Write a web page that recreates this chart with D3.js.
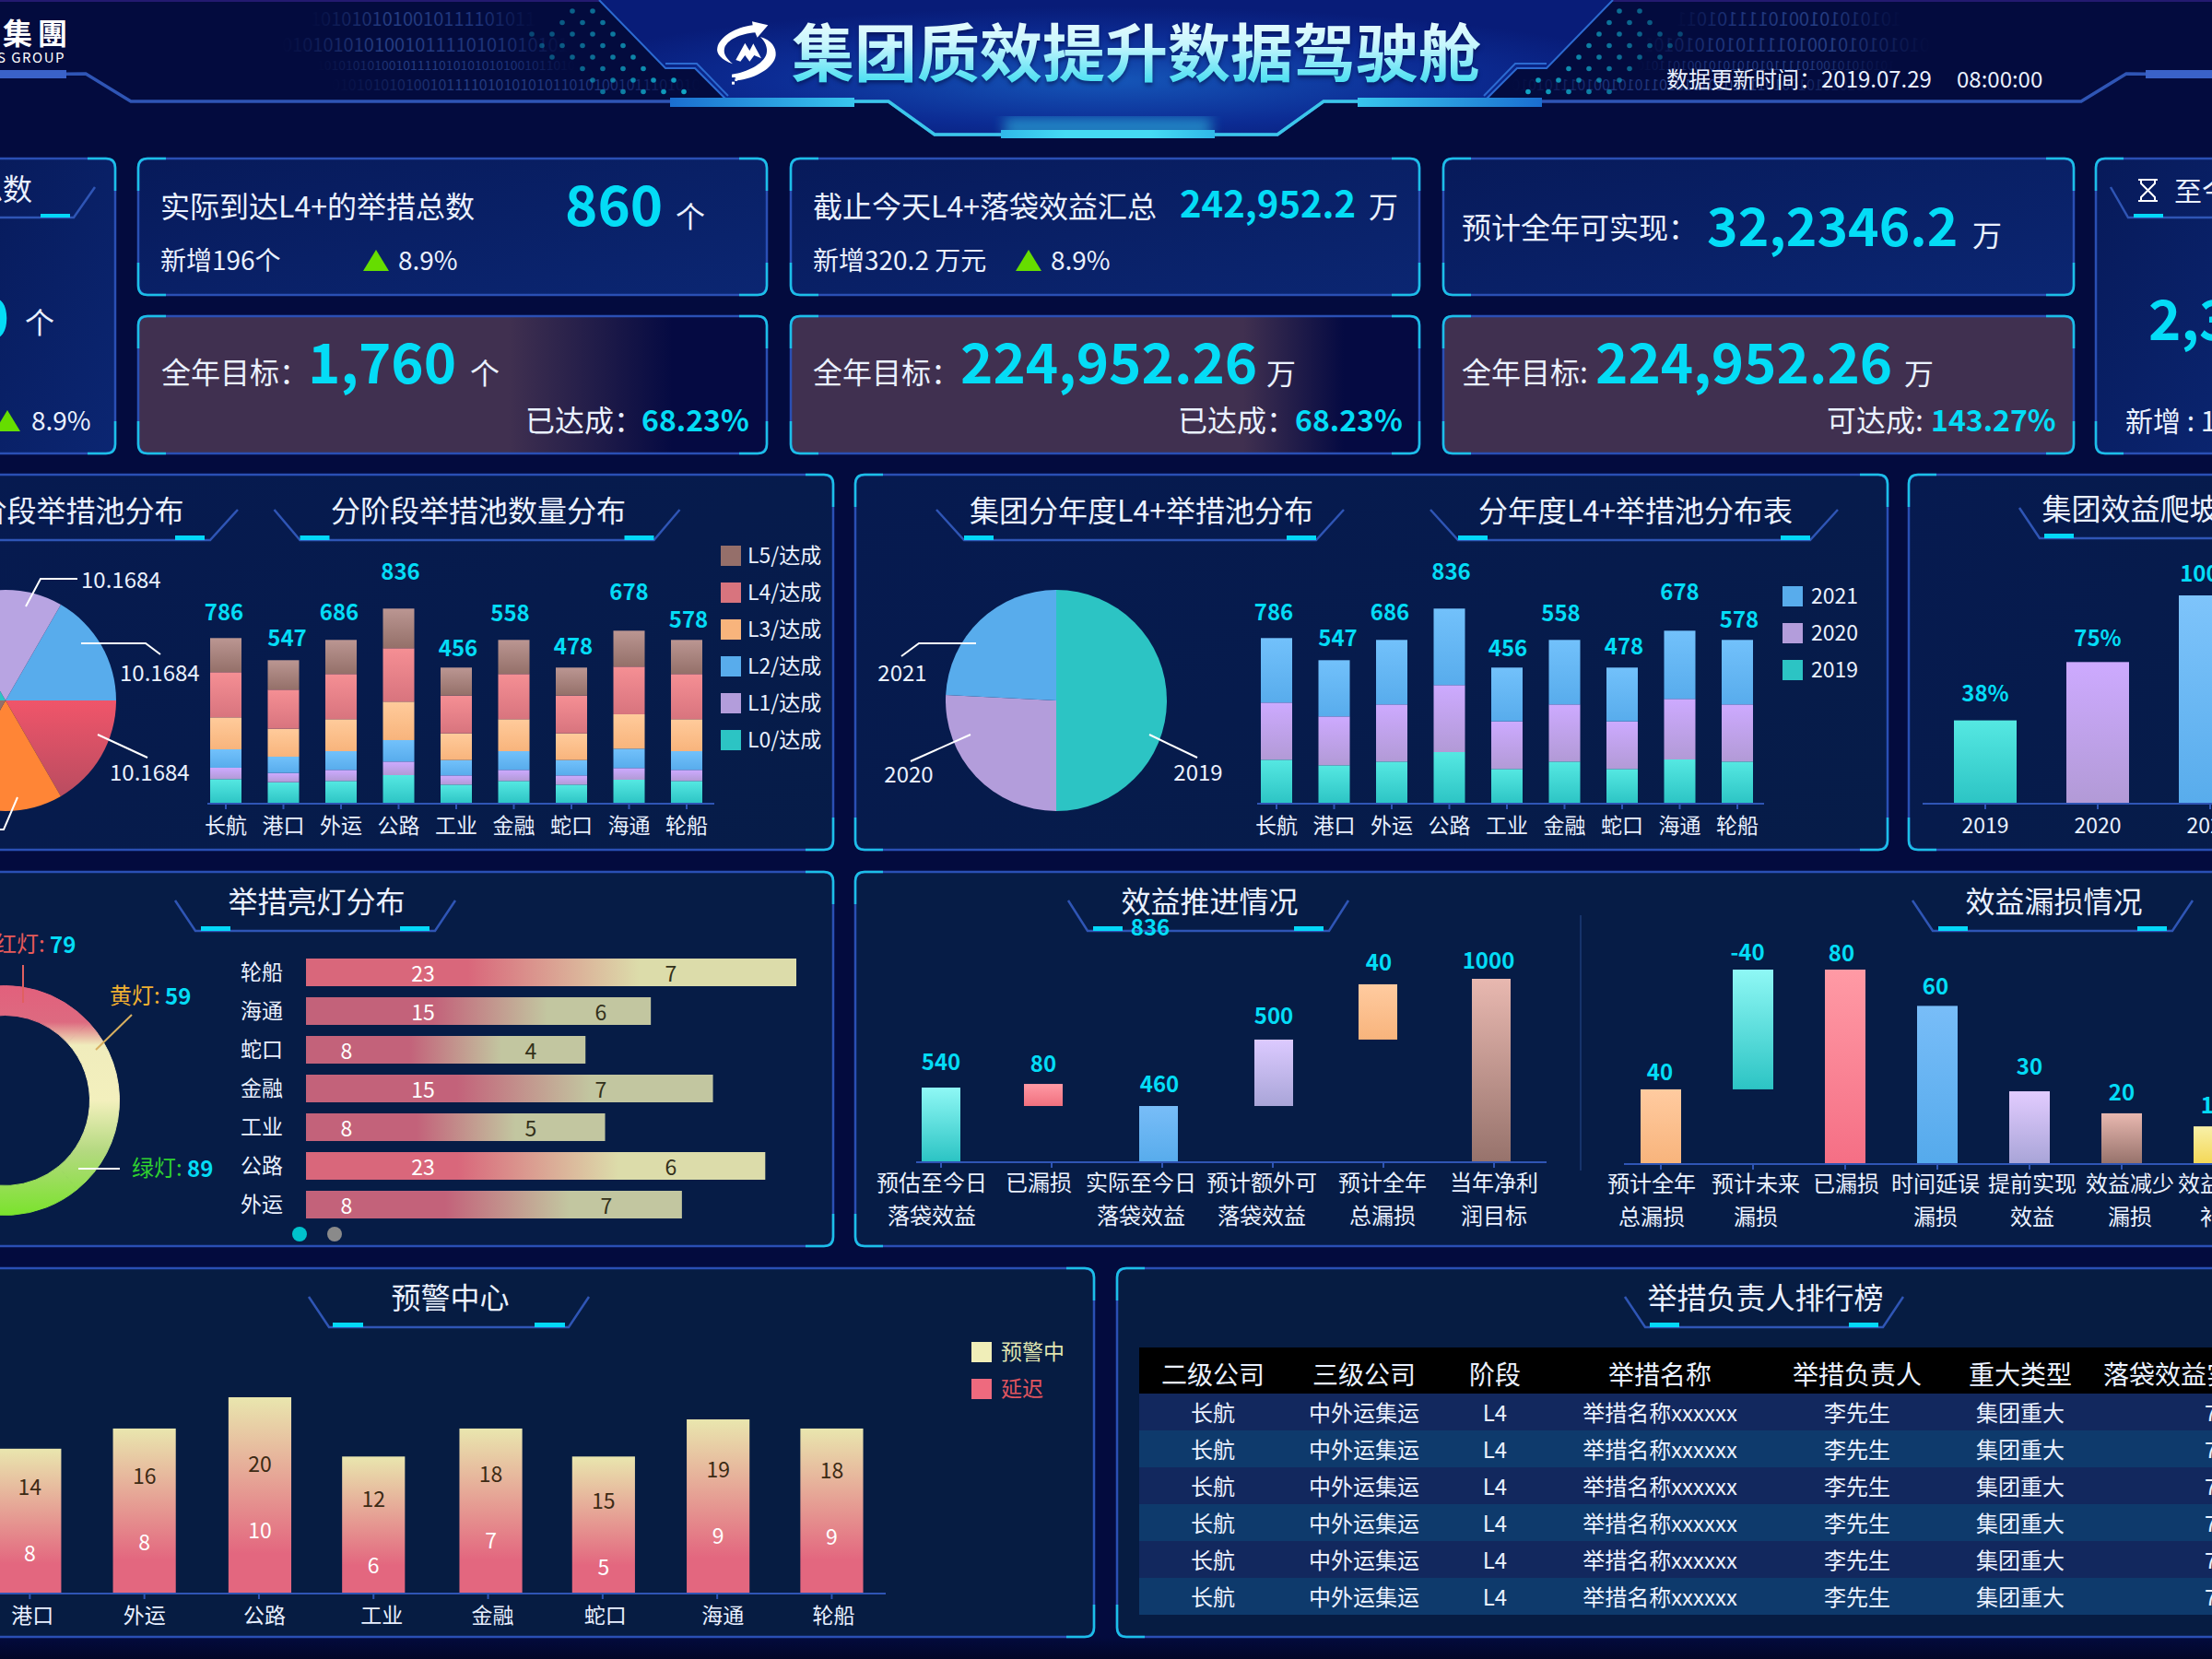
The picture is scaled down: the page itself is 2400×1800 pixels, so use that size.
<!DOCTYPE html>
<html>
<head>
<meta charset="utf-8">
<script src="https://cdn.jsdelivr.net/npm/d3@7/dist/d3.min.js"></script>
<style>
  html, body { margin: 0; padding: 0; background: #030b3e; overflow: hidden; }
  svg { display: block; }
  text { font-family: "Noto Sans CJK SC", "Noto Sans", sans-serif; dominant-baseline: central; }
  .axis text { fill: #e8f0ff; font-size: 23px; }
  .axis line { stroke: #2f55b5; stroke-width: 2; }
</style>
</head>
<body>
<div id="chart"></div>
<script>
// ---- data ----
const ports = ['长航', '港口', '外运', '公路', '工业', '金融', '蛇口', '海通', '轮船']
const stageKeys = ['L0', 'L1', 'L2', 'L3', 'L4', 'L5']
const stageL0 = [80, 70, 74, 93, 62, 74, 62, 78, 74]
const stageL1 = [37, 30, 36, 44, 30, 36, 30, 38, 36]
const stageL2 = [60, 53, 61, 70, 50, 61, 50, 63, 61]
const stageL3 = [104, 91, 104, 125, 87, 104, 87, 112, 104]
const stageL4 = [147, 127, 147, 174, 123, 147, 123, 155, 147]
const stageL5 = [111, 96, 111, 129, 91, 111, 91, 117, 111]
const portTotals = ['786', '547', '686', '836', '456', '558', '478', '678', '578']
const stageLegend = ['L5/达成', 'L4/达成', 'L3/达成', 'L2/达成', 'L1/达成', 'L0/达成']

const stagePie = [10.1684, 10.1684, 10.1684, 10.1684, 10.1684, 10.1684]
const stagePieKeys = ['L2', 'L4', 'L3', 'L5', 'L0', 'L1']

const yearKeys = ['2019', '2020', '2021']
const year2019 = [143, 125, 137, 168, 113, 137, 113, 144, 137]
const year2020 = [186, 159, 186, 218, 155, 186, 155, 197, 186]
const year2021 = [210, 183, 210, 249, 175, 210, 175, 222, 210]
const yearPie = [50, 25.8, 24.2]

const climbYears = ['2019', '2020', '2021']
const climbBars = [40, 68, 100]
const climbLabels = ['38%', '75%', '100%']

const lightNames = ['红灯', '黄灯', '绿灯']
const lightValues = [79, 59, 89]
const lightPorts = ['轮船', '海通', '蛇口', '金融', '工业', '公路', '外运']
const lightBars = [30, 21.1, 17.1, 24.9, 18.3, 28.1, 23]
const lightRed = [23, 15, 8, 15, 8, 23, 8]
const lightYellow = [7, 6, 4, 7, 5, 6, 7]

const advanceTop = ['预估至今日', '已漏损', '实际至今日', '预计额外可', '预计全年', '当年净利']
const advanceBottom = ['落袋效益', '', '落袋效益', '落袋效益', '总漏损', '润目标']
const advanceFrom = [0, 303, 0, 303, 667, 0]
const advanceTo = [404, 424, 303, 667, 970, 1000]
const advanceLabels = ['540', '80', '460', '500', '40', '1000']

const leakTop = ['预计全年', '预计未来', '已漏损', '时间延误', '提前实现', '效益减少', '效益增加']
const leakBottom = ['总漏损', '漏损', '', '漏损', '效益', '漏损', '补偿']
const leakFrom = [0, 30.5, 0, 0, 0, 0, 0]
const leakTo = [30.5, 80, 80, 65, 29.7, 20.6, 15.2]
const leakLabels = ['40', '-40', '80', '60', '30', '20', '10']

const alertPorts = ['港口', '外运', '公路', '工业', '金融', '蛇口', '海通', '轮船']
const alertBars = [22.1, 25.2, 30, 20.9, 25.2, 20.9, 26.6, 25.2]
const alertWarn = [14, 16, 20, 12, 18, 15, 19, 18]
const alertDelay = [8, 8, 10, 6, 7, 5, 9, 9]
const alertLegend = ['预警中', '延迟']

const tableHead = ['二级公司', '三级公司', '阶段', '举措名称', '举措负责人', '重大类型', '落袋效益实现']
const tableRow = ['长航', '中外运集运', 'L4', '举措名称xxxxxx', '李先生', '集团重大', '700']
const tableRowCount = [0, 1, 2, 3, 4, 5]

// ---- layout and colours, kept apart from the data ----
const width = 2400
const height = 1800
const white = '#eaf1ff'
const cyan = '#04dcf6'
const lineBlue = '#2f55b5'
const stageColor = { L0: ['#55e8e2', '#2cc4c4'], L1: ['#cdaaff', '#b29ad6'], L2: ['#72c1fb', '#58acec'], L3: ['#ffcb9b', '#f8b47c'], L4: ['#f58f94', '#d8747e'], L5: ['#bb9692', '#947069'] }
const legendColor = { L0: '#2cc4c4', L1: '#b39ddb', L2: '#58acec', L3: '#f8b47c', L4: '#d8747e', L5: '#956f6a', 2019: '#2cc4c4', 2020: '#b39ddb', 2021: '#58acec' }
const yearColor = { 2019: stageColor.L0, 2020: stageColor.L1, 2021: stageColor.L2 }
const labelDy = [27, 23, 29, 39, 20, 28, 22, 41, 21]

const svg = d3.select('#chart').append('svg').attr('width', width).attr('height', height)
const defs = svg.append('defs')

function gradient(id, stops, x2 = 0, y2 = 1) {
  const g = defs.append('linearGradient').attr('id', id)
    .attr('x1', 0).attr('y1', 0).attr('x2', x2).attr('y2', y2)
  stops.forEach(s => g.append('stop').attr('offset', s[0]).attr('stop-color', s[1]))
  return `url(#${id})`
}

function vGrad(id, pair) {
  return gradient(id, [[0, pair[0]], [1, pair[1]]])
}

// y is the visual middle of the text, the font sits about 2.5px low otherwise
function txt(parent, x, y, str, size, fill = white, anchor = 'start', weight = 400) {
  return parent.append('text').attr('x', x).attr('y', y - 2.5).attr('font-size', size)
    .attr('fill', fill).attr('text-anchor', anchor).attr('font-weight', weight).text(str)
}

const polyline = d3.line()

function leader(points, color = '#fff', w = 2) {
  svg.append('path').attr('d', polyline(points)).attr('fill', 'none').attr('stroke', color).attr('stroke-width', w)
}

function frame(x, y, w, h, fill) {
  const g = svg.append('g')
  g.append('rect').attr('x', x).attr('y', y).attr('width', w).attr('height', h).attr('rx', 10)
    .attr('fill', fill).attr('stroke', '#2a4fb4').attr('stroke-width', 2.5)
  const r = 10
  const corners = [
    `M${x + 30},${y}H${x + r}Q${x},${y} ${x},${y + r}V${y + 35}`,
    `M${x + w - 30},${y}H${x + w - r}Q${x + w},${y} ${x + w},${y + r}V${y + 35}`,
    `M${x + 30},${y + h}H${x + r}Q${x},${y + h} ${x},${y + h - r}V${y + h - 35}`,
    `M${x + w - 30},${y + h}H${x + w - r}Q${x + w},${y + h} ${x + w},${y + h - r}V${y + h - 35}`
  ]
  g.selectAll('path.c').data(corners).enter().append('path').attr('d', d => d)
    .attr('fill', 'none').attr('stroke', '#1cbfe8').attr('stroke-width', 2.5)
}

function title(str, cx, halfBottom, halfTop, yTop, yBottom, blockW, blockIn = 6) {
  leader([[cx - halfTop, yTop], [cx - halfBottom, yBottom], [cx + halfBottom, yBottom], [cx + halfTop, yTop]], lineBlue, 2.5)
  svg.append('rect').attr('x', cx - halfBottom + blockIn).attr('y', yBottom - 5).attr('width', blockW).attr('height', 5).attr('fill', '#04d8f8')
  svg.append('rect').attr('x', cx + halfBottom - blockIn - blockW).attr('y', yBottom - 5).attr('width', blockW).attr('height', 5).attr('fill', '#04d8f8')
  txt(svg, cx + 1.5, yTop + 1, str, 32, white, 'middle')
}

function bottomAxis(scale, y, x1, x2, showText = true, textNudge = null) {
  const axis = d3.axisBottom(scale).tickSize(6).tickSizeOuter(0).tickPadding(10)
  const g = svg.append('g').attr('class', 'axis').attr('transform', `translate(0,${y})`).call(axis)
  g.select('.domain').remove()
  g.selectAll('text').attr('dy', '.25em')
  if (textNudge) g.selectAll('text').attr('x', (d, i) => textNudge[i])
  if (!showText) g.selectAll('text').remove()
  g.append('line').attr('x1', x1).attr('x2', x2).attr('y1', 0).attr('y2', 0).attr('stroke-width', 3.5)
  return g
}

// ---- page background ----
svg.append('rect').attr('width', width).attr('height', height).attr('fill', '#030b3e')
svg.append('rect').attr('width', width).attr('height', 2).attr('fill', '#241a70')
svg.append('rect').attr('y', 1776).attr('width', width).attr('height', 24)
  .attr('fill', gradient('footFade', [[0, '#030b3e'], [1, '#020628']]))

// ---- header ----
const headGlow = defs.append('radialGradient').attr('id', 'headGlow').attr('cx', .5).attr('cy', .6).attr('r', .55)
headGlow.append('stop').attr('offset', 0).attr('stop-color', '#1556b8')
headGlow.append('stop').attr('offset', .6).attr('stop-color', '#0c2c94')
headGlow.append('stop').attr('offset', 1).attr('stop-color', '#081c78')
svg.append('path').attr('fill', 'url(#headGlow)')
  .attr('d', polyline([[650, 0], [722, 74], [754, 74], [788, 110], [964, 110], [1014, 146], [1386, 146], [1433, 110], [1612, 110], [1646, 74], [1678, 74], [1750, 0]]) + 'Z')

defs.append('filter').attr('id', 'soft').append('feGaussianBlur').attr('stdDeviation', 7)
svg.append('rect').attr('x', 1090).attr('y', 128).attr('width', 224).attr('height', 20).attr('fill', '#34d4f0').attr('opacity', .55).attr('filter', 'url(#soft)')

const binFade = gradient('binFade', [[0, '#030b3e'], [.35, '#263e84'], [.75, '#1d337a'], [1, '#030b3e']], 1, 0)
const wing = svg.append('g').attr('class', 'wing')
const wingR = svg.append('g').attr('transform', `translate(${width},0) scale(-1,1)`)
const binRows = [
  { x: 337, y: 22, s: 20, t: '1010101010010111101011' },
  { x: 306, y: 50, s: 20, t: '0101010101001011110101010101' },
  { x: 344, y: 72, s: 14, t: '101010101001011110101010101001011010' },
  { x: 360, y: 93, s: 16, t: '010101010100101111010101010110101001011101010' }
]
;[wing, wingR].forEach(side => {
  binRows.forEach(r => txt(side, r.x, r.y, r.t, r.s, binFade))
  const dots = []
  d3.range(0, 8).forEach(j => {
    const y = 12 + j * 12.5
    d3.range(0, 10).forEach(i => {
      const x = 555 + i * 22 + (j % 2) * 11
      if (x < 640 + y * 1.05 && x > 566 + Math.abs(y - 43) * 1.5) dots.push([x, y])
    })
  })
  side.selectAll('circle').data(dots).enter().append('circle')
    .attr('cx', d => d[0]).attr('cy', d => d[1]).attr('r', 2.8).attr('fill', '#11a8c8')
    .attr('opacity', d => .35 + (d[0] - 566) / 280)
  const lines = [[[650, 0], [722, 74], [754, 74], [788, 108]], [[722, 69], [756, 69], [790, 104]]]
  lines.forEach(l => side.append('path').attr('d', polyline(l)).attr('fill', 'none').attr('stroke', '#2c6ad0').attr('stroke-width', 2))
  side.append('path').attr('d', polyline([[0, 81], [93, 80], [142, 110], [964, 110], [1014, 146], [1200, 146]]))
    .attr('fill', 'none').attr('stroke', lineBlue).attr('stroke-width', 3.5)
  side.append('path').attr('d', polyline([[927, 110], [964, 110], [1014, 146], [1086, 146]]))
    .attr('fill', 'none').attr('stroke', '#3bc7ea').attr('stroke-width', 3.5)
  side.append('rect').attr('x', 0).attr('y', 76).attr('width', 72).attr('height', 9).attr('fill', '#3a62c8')
  side.append('rect').attr('x', 727).attr('y', 106).attr('width', 200).attr('height', 10)
    .attr('fill', gradient(side === wing ? 'barL' : 'barR', [[0, '#1a6ed0'], [1, '#38c6ee']], 1, 0))
})
svg.append('rect').attr('x', 1086).attr('y', 141).attr('width', 232).attr('height', 9)
  .attr('fill', gradient('barC', [[0, '#30b8e8'], [.3, '#45daf4'], [.7, '#45daf4'], [1, '#30b8e8']], 1, 0))

const logo = svg.append('g')
txt(logo, 3, 36, '集團', 32, '#fff', 'start', 700).attr('letter-spacing', 6)
txt(logo, 71, 64, 'ICS GROUP', 15, '#fff', 'end', 400).attr('letter-spacing', 1.5)

const emblem = svg.append('g').attr('transform', 'translate(760,10) scale(.3333)').attr('fill', '#fff')
emblem.append('path').attr('d', 'M105 178C70 165 50 145 55 125C62 90 115 58 170 52L168 40L220 52L185 92L178 76C130 80 85 100 78 128C74 145 85 160 105 178Z')
emblem.append('path').attr('d', 'M195 90C230 100 248 125 245 150C240 190 180 225 120 232L105 212C150 205 205 180 215 145C220 125 210 105 195 90Z')
emblem.append('path').attr('d', 'M115 165L145 110L160 135L172 112L198 160L175 150L160 170L145 150L130 170Z')
emblem.append('rect').attr('x', 102).attr('y', 212).attr('width', 10).attr('height', 10)
emblem.append('rect').attr('x', 112).attr('y', 226).attr('width', 8).attr('height', 8)
emblem.append('rect').attr('x', 102).attr('y', 236).attr('width', 9).attr('height', 9)

const titleFill = gradient('titleFill', [[0, '#ffffff'], [.45, '#c6f6fd'], [1, '#1fd6ee']])
txt(svg, 859, 56, '集团质效提升数据驾驶舱', 68, titleFill, 'start', 700)
  .style('filter', 'drop-shadow(0 3px 2px rgba(0,10,60,.55))')
txt(svg, 1808, 87, '数据更新时间：2019.07.29', 24)
txt(svg, 2123, 87, '08:00:00', 24)

// ---- KPI cards ----
const rowOne = gradient('rowOne', [[0, '#071a5a'], [1, '#0b2672']], 1, 1)
const rowFade1 = gradient('rowFade1', [[0, '#403050'], [.59, '#403050'], [.85, '#050a42'], [1, '#050a42']], 1, 0)
const rowFade2 = gradient('rowFade2', [[0, '#403050'], [.72, '#403050'], [.88, '#050a42'], [1, '#050a42']], 1, 0)

function tri(x, yTop) {
  svg.append('path').attr('fill', '#66dd00').attr('d', polyline([[x + 14, yTop], [x + 28, yTop + 23], [x, yTop + 23]]) + 'Z')
}

frame(-30, 172, 155, 320, rowOne)
leader([[-30, 236], [80, 236], [103, 203]], lineBlue, 2.5)
svg.append('rect').attr('x', 44).attr('y', 232).attr('width', 32).attr('height', 4).attr('fill', '#04d8f8')
txt(svg, 35, 205, '总数', 32, white, 'end')
txt(svg, 10, 343, '1,760', 60, cyan, 'end', 700)
txt(svg, 27, 350, '个', 32)
tri(-6, 445)
txt(svg, 34, 457, '8.9%', 28)

frame(150, 172, 682, 148, rowOne)
txt(svg, 174, 224, '实际到达L4+的举措总数', 32)
txt(svg, 613, 221, '860', 60, cyan, 'start', 700)
txt(svg, 733, 235, '个', 32)
txt(svg, 174, 283, '新增196个', 28)
tri(394, 271)
txt(svg, 432, 283, '8.9%', 28)

frame(150, 343, 682, 149, rowFade1)
txt(svg, 175, 404, '全年目标：', 32)
txt(svg, 334, 392, '1,760', 60, cyan, 'start', 700)
txt(svg, 510, 405, '个', 32)
txt(svg, 570, 456, '已达成：', 32)
txt(svg, 696, 456, '68.23%', 32, cyan, 'start', 700)

frame(858, 172, 682, 148, rowOne)
txt(svg, 882, 224, '截止今天L4+落袋效益汇总', 32)
txt(svg, 1280, 221, '242,952.2', 40, cyan, 'start', 700)
txt(svg, 1485, 224, '万', 32)
txt(svg, 882, 283, '新增320.2 万元', 28)
tri(1102, 271)
txt(svg, 1140, 283, '8.9%', 28)

frame(858, 343, 682, 149, rowFade2)
txt(svg, 882, 404, '全年目标：', 32)
txt(svg, 1042, 392, '224,952.26', 60, cyan, 'start', 700)
txt(svg, 1374, 405, '万', 32)
txt(svg, 1278, 456, '已达成：', 32)
txt(svg, 1405, 456, '68.23%', 32, cyan, 'start', 700)

frame(1566, 172, 684, 148, rowOne)
txt(svg, 1586, 247, '预计全年可实现：', 32)
txt(svg, 1852, 244, '32,2346.2', 57, cyan, 'start', 700)
txt(svg, 2140, 255, '万', 32)

frame(1566, 343, 684, 149, '#403050')
txt(svg, 1586, 404, '全年目标:', 32)
txt(svg, 1731, 392, '224,952.26', 60, cyan, 'start', 700)
txt(svg, 2066, 405, '万', 32)
txt(svg, 1982, 456, '可达成:', 32)
txt(svg, 2095, 456, '143.27%', 32, cyan, 'start', 700)

frame(2274, 172, 180, 320, rowOne)
leader([[2290, 203], [2309, 236], [2400, 236]], lineBlue, 2.5)
svg.append('rect').attr('x', 2315).attr('y', 232).attr('width', 32).attr('height', 4).attr('fill', '#04d8f8')
svg.append('path').attr('fill', 'none').attr('stroke', '#fff').attr('stroke-width', 2)
  .attr('d', 'M2320,195H2341M2320,218H2341M2323,195V199L2338,214V218M2338,195V199L2323,214V218')
txt(svg, 2359, 207, '至今累计', 30)
txt(svg, 2331, 345, '2,340', 60, cyan, 'start', 700)
txt(svg, 2306, 457, '新增 : 196个', 30)

// ---- panels ----
const panelFill = gradient('panelFill', [[0, '#061a50'], [1, '#061c48']], 1, 1)
frame(-30, 515, 934, 407, panelFill)
frame(928, 515, 1120, 407, panelFill)
frame(2071, 515, 400, 407, panelFill)
frame(-30, 946, 934, 406, '#061c46')
frame(928, 946, 1520, 406, '#061c46')
frame(-30, 1376, 1217, 400, '#061c42')
frame(1212, 1376, 1260, 400, '#061c42')

title('分阶段举措池分布', 70, 158, 188, 553, 586, 32)
title('分阶段举措池数量分布', 517.5, 192, 220, 553, 586, 32, 0)
title('集团分年度L4+举措池分布', 1237, 191, 221, 553, 586, 32, 0)
title('分年度L4+举措池分布表', 1773, 191, 221, 553, 586, 32, 0)
title('集团效益爬坡图', 2326, 113, 135, 551, 584, 32, 5)
title('举措亮灯分布', 342, 130, 152, 977, 1010, 32, 6)
title('效益推进情况', 1311, 131, 152, 977, 1010, 32, 6)
title('效益漏损情况', 2227, 130, 152, 977, 1010, 32, 6)
title('预警中心', 487, 130, 152, 1407, 1440, 33, 4)
title('举措负责人排行榜', 1914, 129, 151, 1407, 1440, 32, 5)

// ---- stacked charts ----
function stacked(prefix, keys, columns, colors, x0, x1, axisA, axisB, labelNudge) {
  const rows = ports.map((p, i) => {
    const row = { port: p }
    keys.forEach((k, j) => { row[k] = columns[j][i] })
    return row
  })
  const x = d3.scaleBand().domain(ports).range([x0, x1]).paddingInner(1 - 34 / 62.5).paddingOuter((1 - 34 / 62.5) / 2)
  const y = d3.scaleLinear().domain([0, 635]).range([872, 660.3])
  const series = d3.stack().keys(keys)(rows)
  const g = svg.append('g')
  g.selectAll('g').data(series).enter().append('g')
    .attr('fill', d => vGrad(prefix + d.key, colors[d.key]))
    .selectAll('rect').data(d => d).enter().append('rect')
    .attr('x', d => x(d.data.port)).attr('width', x.bandwidth())
    .attr('y', d => y(d[1])).attr('height', d => y(d[0]) - y(d[1]))
  bottomAxis(x, 872, axisA, axisB)
  rows.forEach((r, i) => {
    const total = d3.sum(keys, k => r[k])
    txt(svg, x(r.port) + x.bandwidth() / 2 + labelNudge[i], y(total) - labelDy[i], portTotals[i], 24, cyan, 'middle', 700)
  })
}

stacked('st', stageKeys, [stageL0, stageL1, stageL2, stageL3, stageL4, stageL5], stageColor, 213.75, 776.25, 225, 775, [-2, 4, -2, 2, 2, -4, 2, 0, 2])
stacked('yr', yearKeys, [year2019, year2020, year2021], yearColor, 1353.75, 1916.25, 1364, 1914, [-3, 4, -2, 2, 1, -4, 2, 0, 2])

const legendScale = d3.scalePoint().domain(stageLegend).range([592, 792])
stageLegend.forEach((name, i) => {
  svg.append('rect').attr('x', 782).attr('y', legendScale(name)).attr('width', 22).attr('height', 22).attr('fill', legendColor[stageKeys[5 - i]])
  txt(svg, 811, legendScale(name) + 11, name, 23)
})
const yearLegend = yearKeys.slice().reverse()
yearLegend.forEach((name, i) => {
  svg.append('rect').attr('x', 1934).attr('y', 636 + i * 40).attr('width', 22).attr('height', 22).attr('fill', legendColor[name])
  txt(svg, 1965, 647 + i * 40, name, 23)
})

// ---- pies ----
const pieRadius = 120
const arc = d3.arc().innerRadius(0).outerRadius(pieRadius)
const stagePieFill = {
  L2: '#58acec', L4: vGrad('pieRed', ['#f0556a', '#b94c60']), L3: '#ff8536', L5: '#956f6a', L0: '#2cc4c4', L1: '#b8a4e2'
}
const stageArcs = d3.pie().sort(null).startAngle(Math.PI / 6).endAngle(Math.PI / 6 + Math.PI * 2)(stagePie)
svg.append('g').attr('transform', 'translate(6,760)')
  .selectAll('path').data(stageArcs).enter().append('path')
  .attr('d', arc).attr('fill', (d, i) => stagePieFill[stagePieKeys[i]])

leader([[28, 658], [44, 628], [84, 628]])
leader([[88, 698], [158, 698], [174, 710]])
leader([[106, 797], [160, 822]])
leader([[19, 865], [4, 900], [-10, 900]])
txt(svg, 88, 630, stagePie[0].toFixed(4), 24)
txt(svg, 130, 731, stagePie[1].toFixed(4), 24)
txt(svg, 119, 839, stagePie[2].toFixed(4), 24)

const yearArcs = d3.pie().sort(null)(yearPie)
svg.append('g').attr('transform', 'translate(1146,760)')
  .selectAll('path').data(yearArcs).enter().append('path')
  .attr('d', arc).attr('fill', (d, i) => ['#2cc4c4', '#b39ddb', '#58acec'][i])
leader([[1059, 698], [997, 698], [978, 712]])
leader([[1053, 797], [988, 826]])
leader([[1247, 797], [1299, 822]])
txt(svg, 979, 731, yearKeys[2], 24, white, 'middle')
txt(svg, 986, 841, yearKeys[1], 24, white, 'middle')
txt(svg, 1300, 839, yearKeys[0], 24, white, 'middle')

// ---- climb chart ----
const climbX = d3.scaleBand().domain(climbYears).range([2093, 2459]).paddingInner(54 / 122).paddingOuter(27 / 122)
const climbY = d3.scaleLinear().domain([0, 100]).range([872, 646])
const climbFill = [stageColor.L0, ['#cdaaff', '#b29ad6'], ['#7ec4fb', '#58acec']]
svg.append('g').selectAll('rect').data(climbYears).enter().append('rect')
  .attr('x', d => climbX(d)).attr('width', climbX.bandwidth())
  .attr('y', (d, i) => climbY(climbBars[i])).attr('height', (d, i) => climbY(0) - climbY(climbBars[i]))
  .attr('fill', (d, i) => vGrad('climb' + i, climbFill[i]))
bottomAxis(climbX, 872, 2086, 2400)
climbYears.forEach((d, i) => {
  txt(svg, climbX(d) + climbX.bandwidth() / 2, climbY(climbBars[i]) - [29, 25, 23][i], climbLabels[i], 24, cyan, 'middle', 700)
})

// ---- light donut ----
const ringFill = defs.append('linearGradient').attr('id', 'ringFill').attr('gradientUnits', 'userSpaceOnUse')
  .attr('x1', 0).attr('x2', 0).attr('y1', -125).attr('y2', 125)
;[[0, '#e2607c'], [.16, '#dd6a80'], [.26, '#f0ecbc'], [.5, '#f3f0bd'], [.72, '#b4d980'], [1, '#7ae32c']]
  .forEach(s => ringFill.append('stop').attr('offset', s[0]).attr('stop-color', s[1]))
const ringPie = d3.pie().sort(null).startAngle(-78 * Math.PI / 180).endAngle(282 * Math.PI / 180)(lightValues)
svg.append('g').attr('transform', 'translate(5,1194)').selectAll('path').data(ringPie).enter().append('path')
  .attr('d', d3.arc().innerRadius(92.5).outerRadius(124.5)).attr('fill', 'url(#ringFill)')
  .attr('stroke', 'url(#ringFill)').attr('stroke-width', 1)
leader([[25, 1047], [25, 1088]], '#e06060')
leader([[143, 1101], [104, 1139]], '#d8b060')
leader([[85, 1268], [130, 1268]], '#fff')
const lightColors = ['#e65a5a', '#f0b030', '#2fd02f']
const lightSpots = [[-6, 1025], [119, 1081], [143, 1268]]
lightNames.forEach((n, i) => {
  const t = txt(svg, lightSpots[i][0], lightSpots[i][1], n + ': ', 24, lightColors[i])
  t.append('tspan').attr('fill', cyan).attr('font-weight', 700).text(lightValues[i])
})

// ---- light bars ----
const lightY = d3.scaleBand().domain(lightPorts).range([1034, 1328]).paddingInner(12 / 42).paddingOuter(6 / 42)
const lightX = d3.scaleLinear().domain([0, 30]).range([332, 864])
const brightRow = gradient('brightRow', [[0, '#d9677b'], [.33, '#d9677b'], [.68, '#dcdcaa'], [1, '#dcdcaa']], 1, 0)
const dimRow = gradient('dimRow', [[0, '#c3627a'], [.37, '#c3627a'], [.7, '#c2c6a0'], [1, '#c2c6a0']], 1, 0)
svg.append('g').selectAll('rect').data(lightPorts).enter().append('rect')
  .attr('x', lightX(0)).attr('y', d => lightY(d)).attr('height', lightY.bandwidth())
  .attr('width', (d, i) => lightX(lightBars[i]) - lightX(0))
  .attr('fill', (d, i) => (lightRed[i] === 23 ? brightRow : dimRow))
const lightAx = [459, 459, 376, 459, 376, 459, 376]
const lightBx = [728, 652, 576, 652, 576, 728, 658]
lightPorts.forEach((p, i) => {
  const cy = lightY(p) + lightY.bandwidth() / 2
  txt(svg, 307, cy, p, 23, white, 'end')
  txt(svg, lightAx[i], cy + 2, lightRed[i], 23, '#fff', 'middle')
  txt(svg, lightBx[i], cy + 2, lightYellow[i], 23, '#33301a', 'middle')
})
svg.append('circle').attr('cx', 325).attr('cy', 1339).attr('r', 8).attr('fill', '#00c2cc')
svg.append('circle').attr('cx', 363).attr('cy', 1339).attr('r', 8).attr('fill', '#8a8a8a')

// ---- floating bar charts ----
function floating(prefix, cats, top, bottom, from, to, labels, fills, x0, x1, bandW, y, axisA, axisB, barNudge, labelNudge, labelDys, textNudge, line1, line2) {
  const x = d3.scaleBand().domain(cats).range([x0, x1])
  const pad = (x.step() - bandW) / 2
  svg.append('g').selectAll('rect').data(cats).enter().append('rect')
    .attr('x', (d, i) => x(d) + pad + barNudge[i]).attr('width', bandW)
    .attr('y', (d, i) => y(to[i])).attr('height', (d, i) => y(from[i]) - y(to[i]))
    .attr('fill', (d, i) => vGrad(prefix + i, fills[i]))
  bottomAxis(x, y(0) + 1, axisA, axisB, false)
  cats.forEach((c, i) => {
    const cx = x(c) + x.step() / 2
    txt(svg, cx + barNudge[i] + labelNudge[i], y(to[i]) - labelDys[i], labels[i], 24, cyan, 'middle', 700)
    txt(svg, cx + textNudge[i], line1, top[i], 24, white, 'middle')
    if (bottom[i]) txt(svg, cx + textNudge[i], line2, bottom[i], 24, white, 'middle')
  })
}

const floatFills = [
  ['#8ff8f5', '#2cc4c4'], ['#ff9aa5', '#f0707e'], ['#78bdf8', '#58acec'],
  ['#dccaff', '#a9a5d8'], ['#ffcba0', '#f8b47c'], ['#e8b8b0', '#97736c']
]
floating('adv', advanceTop, advanceTop, advanceBottom, advanceFrom, advanceTo, advanceLabels, floatFills,
  961, 1681, 42, d3.scaleLinear().domain([0, 1000]).range([1260, 1062]), 994, 1678,
  [0, -9, -4, 1, -6, -3], [0, 0, 1, 0, 1, -3], [27, 21, 23, 25, 23, 19], [-10, -14, -23, -12, -1, 0], 1284, 1320)
txt(svg, 1248, 1007, '836', 24, cyan, 'middle', 700)

const leakFills = [
  ['#ffcba0', '#f8b47c'], ['#8ff8f5', '#2cc4c4'], ['#ff9aa5', '#f56f85'], ['#78bdf8', '#55aaec'],
  ['#e2ccff', '#a9a5d8'], ['#e8b8b0', '#97736c'], ['#f8f0a8', '#f4d858']
]
floating('leak', leakTop, leakTop, leakBottom, leakFrom, leakTo, leakLabels, leakFills,
  1752, 2452, 44, d3.scaleLinear().domain([0, 80]).range([1262, 1052]), 1762, 2400,
  [0, 0, 0, 0, 0, 0, 0], [-1, -6, -4, -2, 0, 0, 0], [18, 18, 17, 20, 26, 22, 22], [-10, 3, 1, -2, 3, 9, 9], 1285, 1321)
svg.append('line').attr('x1', 1715).attr('x2', 1715).attr('y1', 993).attr('y2', 1270).attr('stroke', '#1d3b78').attr('stroke-width', 1.5)

// ---- alert chart ----
const alertX = d3.scaleBand().domain(alertPorts).range([-29.8, 964.6]).paddingInner(56 / 124).paddingOuter(28 / 124)
const alertY = d3.scaleLinear().domain([0, 30]).range([1728, 1516])
const alertBarNudge = [0, 0, 1, 0, 3, 1, 1, 0]
const alertTickNudge = [3, 0, 6, 9, 5, 3, 6, 2]
const alertFill = gradient('alertFill', [[0, '#e9e6ae'], [.8, '#e3677f'], [1, '#e3677f']])
svg.append('g').selectAll('rect').data(alertPorts).enter().append('rect')
  .attr('x', (d, i) => alertX(d) + alertBarNudge[i]).attr('width', alertX.bandwidth())
  .attr('y', (d, i) => alertY(alertBars[i])).attr('height', (d, i) => alertY(0) - alertY(alertBars[i]))
  .attr('fill', alertFill)
bottomAxis(alertX, 1729, 0, 961, true, alertTickNudge)
const alertDy = [41, 51, 71, 45, 49, 47, 53, 45]
alertPorts.forEach((p, i) => {
  const cx = alertX(p) + alertX.bandwidth() / 2 + alertBarNudge[i]
  const top = alertY(alertBars[i]) + alertDy[i]
  txt(svg, cx, top + 2, alertWarn[i], 23, '#3c2a14', 'middle')
  txt(svg, cx, top + 74, alertDelay[i], 23, '#fff', 'middle')
})
const alertLegendFill = ['#f0eeb8', '#ee6a7e']
const alertLegendText = ['#dfe3b0', '#e0555f']
alertLegend.forEach((name, i) => {
  svg.append('rect').attr('x', 1054).attr('y', 1456 + i * 40).attr('width', 22).attr('height', 22).attr('fill', alertLegendFill[i])
  txt(svg, 1086, 1467 + i * 40, name, 23, alertLegendText[i])
})

// ---- table ----
const colCenters = [1316, 1480, 1622, 1801, 2015, 2192]
const table = svg.append('g')
table.append('rect').attr('x', 1236).attr('y', 1462).attr('width', 1200).attr('height', 50).attr('fill', '#000')
table.selectAll('rect.row').data(tableRowCount).enter().append('rect').attr('class', 'row')
  .attr('x', 1236).attr('y', d => 1512 + d * 40).attr('width', 1200).attr('height', 40)
  .attr('fill', d => (d % 2 ? '#0e3a6c' : '#12285e'))
tableHead.forEach((h, i) => {
  if (i < 6) txt(table, colCenters[i], 1492, h, 28, white, 'middle')
  else txt(table, 2282, 1492, h, 28)
})
tableRowCount.forEach(r => {
  tableRow.forEach((c, i) => {
    if (i < 6) txt(table, colCenters[i], 1534 + r * 40, c, 24, white, 'middle')
    else txt(table, 2392, 1534 + r * 40, c, 24)
  })
})
</script>
</body>
</html>
